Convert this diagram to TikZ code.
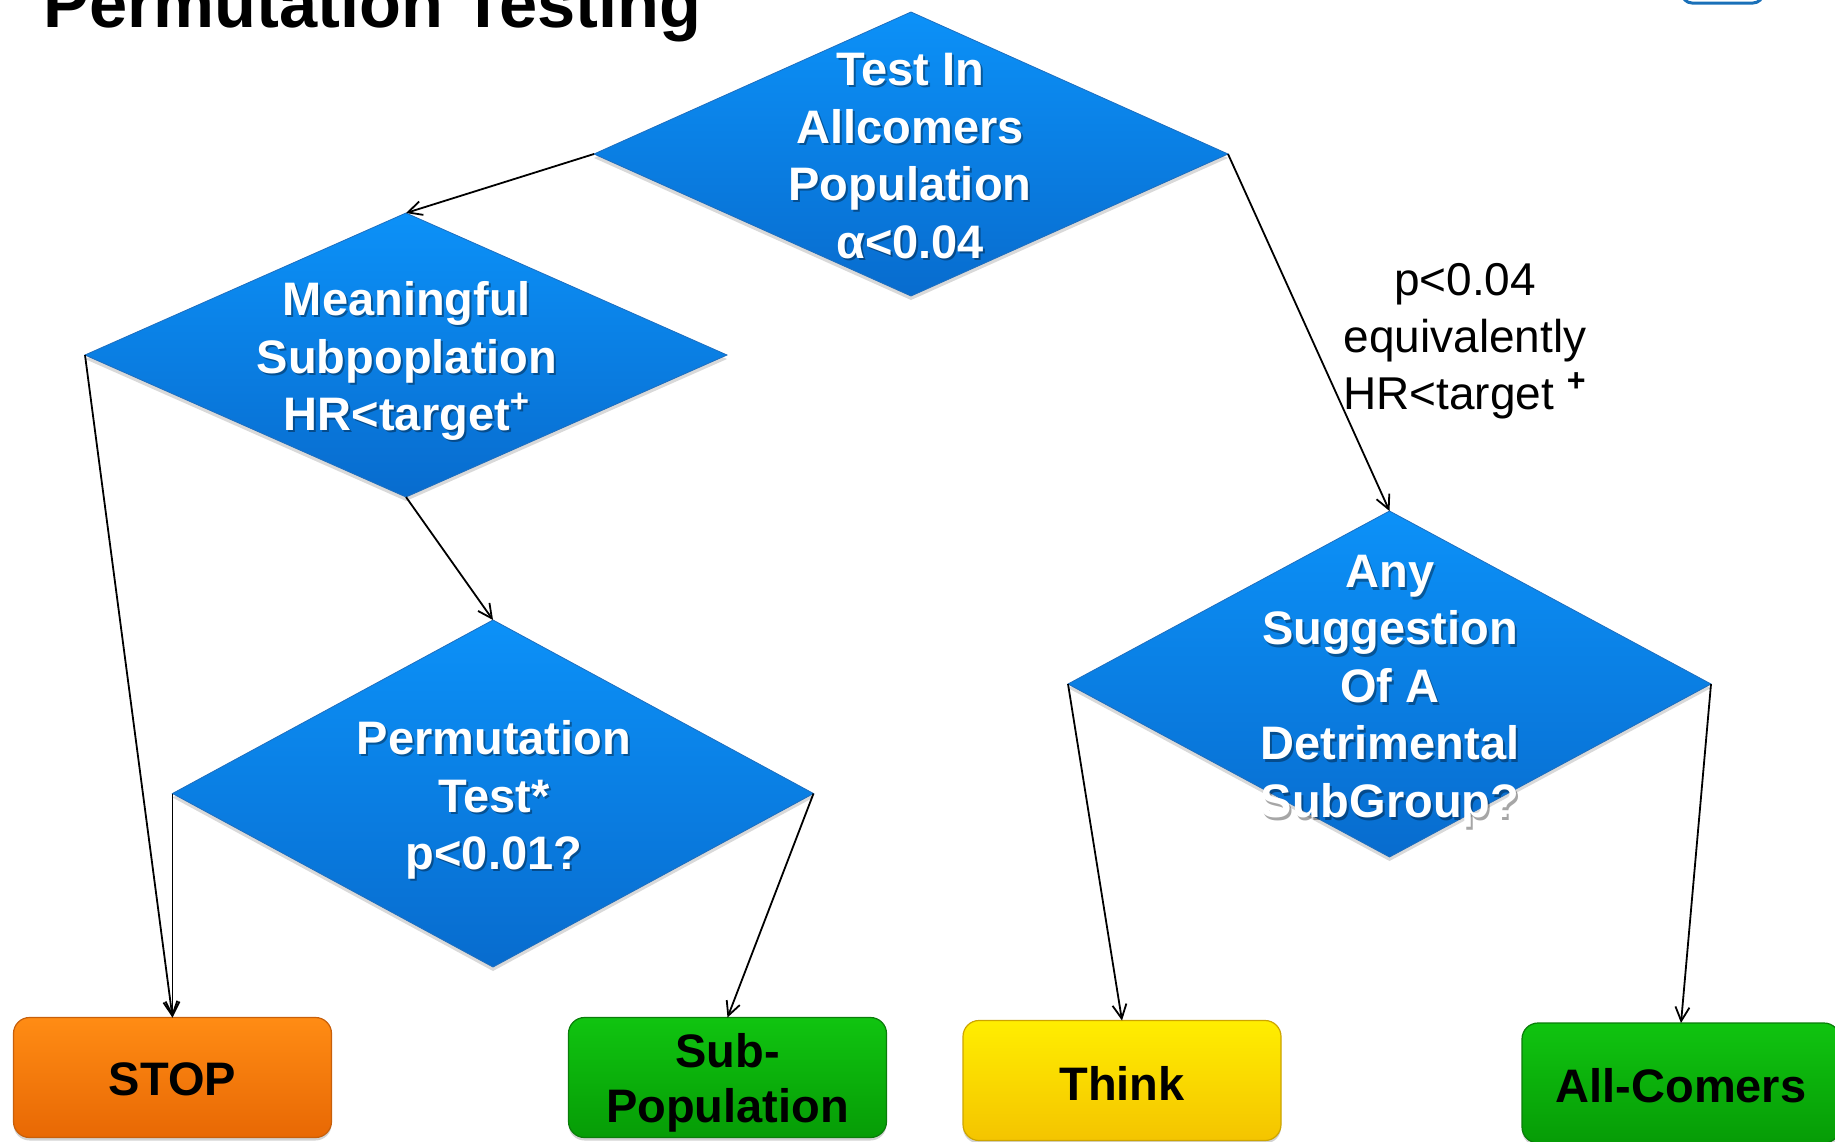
\documentclass[tikz,border=0pt]{standalone}
\usepackage{fontspec}
\setmainfont{Liberation Sans}
\usetikzlibrary{shapes.geometric,arrows.meta,shadows}
\definecolor{dtop}{RGB}{12,145,248}
\definecolor{dbot}{RGB}{8,108,206}
\definecolor{dedge}{RGB}{30,110,190}
\definecolor{otop}{RGB}{255,140,20}
\definecolor{obot}{RGB}{232,104,4}
\definecolor{oedge}{RGB}{200,95,10}
\definecolor{gtop}{RGB}{16,196,16}
\definecolor{gbot}{RGB}{6,156,6}
\definecolor{gedge}{RGB}{10,125,10}
\definecolor{ytop}{RGB}{255,238,0}
\definecolor{ybot}{RGB}{244,196,0}
\definecolor{yedge}{RGB}{205,165,0}
\definecolor{iconblue}{RGB}{26,112,184}
\begin{document}
\begin{tikzpicture}[x=0.5pt,y=-0.5pt,
  dia/.style={diamond,inner sep=0pt,outer sep=0pt,top color=dtop,bottom color=dbot,
    draw=dedge,line width=0.4pt,
    drop shadow={opacity=0.3,shadow xshift=0pt,shadow yshift=-2pt}},
  dtxt/.style={text=white,font=\fontsize{23.5}{28.75}\selectfont\bfseries,align=center,inner sep=0pt},
  tshd/.style={dtxt,text=black,text opacity=0.35},
  box/.style={rectangle,rounded corners=8pt,minimum width=159pt,minimum height=60pt,
    inner sep=0pt,outer sep=0pt,line width=0.6pt,
    drop shadow={opacity=0.35,shadow xshift=0pt,shadow yshift=-1.5pt}},
  btxt/.style={font=\fontsize{23.5}{27.5}\selectfont\bfseries,align=center,inner sep=0pt},
  arr/.style={-{Straight Barb[length=7pt,width=7pt]},line width=0.9pt,black},
  lbl/.style={font=\fontsize{23}{28.5}\selectfont,align=center,inner sep=0pt}]
\useasboundingbox (0,0) rectangle (1835,1141);

% title and corner icon
\node[anchor=base west,inner sep=0pt,font=\fontsize{34.3}{40}\selectfont\bfseries] (title) at (43,27) {Permutation Testing};
\draw[iconblue,line width=1.5pt,rounded corners=5pt] (1682,-40) rectangle (1763,3);

% diamonds
\node[dia,minimum width=317pt,minimum height=142pt] (d1) at (911,154) {};
\node[dia,minimum width=321pt,minimum height=142pt] (d2) at (406,355) {};
\node[dia,minimum width=320.5pt,minimum height=173.5pt] (d3) at (493,793.5) {};
\node[dia,minimum width=321.5pt,minimum height=173pt] (d4) at (1389.5,684) {};

% diamond texts (shadow + white)
\node[tshd] (t1s) at (912,158) {Test In\\Allcomers\\Population\\α<0.04};
\node[dtxt] (t1) at (910,156) {Test In\\Allcomers\\Population\\α<0.04};
\node[tshd] (t2s) at (409,363) {Meaningful\\Subpoplation\\HR<target\textsuperscript{+}};
\node[dtxt] (t2) at (407,361) {Meaningful\\Subpoplation\\HR<target\textsuperscript{+}};
\node[tshd] (t3s) at (496,802) {Permutation\\Test*\\p<0.01?};
\node[dtxt] (t3) at (494,800) {Permutation\\Test*\\p<0.01?};
\node[tshd] (t4s) at (1392,694) {Any\\Suggestion\\Of A\\Detrimental\\SubGroup?};
\node[dtxt] (t4) at (1390,691) {Any\\Suggestion\\Of A\\Detrimental\\SubGroup?};

% edge label
\node[lbl] (lab) at (1465,341) {p<0.04\\equivalently\\HR<target \textsuperscript{\textbf{+}}};

% outcome boxes
\node[box,top color=otop,bottom color=obot,draw=oedge] (stop) at (172.5,1077.5) {};
\node[btxt] (stopt) at (172.5,1079) {STOP};
\node[box,top color=gtop,bottom color=gbot,draw=gedge] (sub) at (727.5,1077.5) {};
\node[btxt] (subt) at (727.5,1083) {Sub-\\Population};
\node[box,top color=ytop,bottom color=ybot,draw=yedge] (think) at (1122,1080.5) {};
\node[btxt] (thinkt) at (1122,1083) {Think};
\node[box,top color=gtop,bottom color=gbot,draw=gedge] (all) at (1681,1083) {};
\node[btxt] (allt) at (1681,1085.5) {All-Comers};

% connectors
\draw[arr] (d1.west) -- (d2.north);
\draw[arr] (d1.east) -- (d4.north);
\draw[arr] (d2.west) -- (stop.north);
\draw[arr] (d2.south) -- (d3.north);
\draw[arr] (d3.west) -- (stop.north);
\draw[arr] (d3.east) -- (sub.north);
\draw[arr] (d4.west) -- (think.north);
\draw[arr] (d4.east) -- (all.north);
\end{tikzpicture}
\end{document}
